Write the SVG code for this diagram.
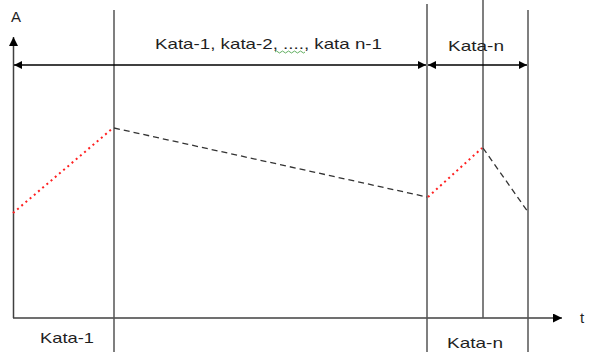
<svg xmlns="http://www.w3.org/2000/svg" width="589" height="352" viewBox="0 0 589 352">
<style>
text{font-family:"Liberation Sans",Arial,sans-serif;font-size:15px;fill:#1f1f1f}
.v{stroke:#555;stroke-width:1.5;fill:none}
.ax{stroke:#404040;stroke-width:1.5;fill:none}
.dim{stroke:#000;stroke-width:1.3;fill:none}
.red{stroke:#ff2020;stroke-width:2;stroke-dasharray:2 3.5;fill:none}
.dash{stroke:#333;stroke-width:1.3;stroke-dasharray:6 4;fill:none}
</style>
<defs>
<marker id="ah" viewBox="0 0 10 10" refX="10" refY="5" markerWidth="8" markerHeight="8" markerUnits="userSpaceOnUse" orient="auto-start-reverse">
<path d="M0,0 L10,5 L0,10 z" fill="#000"/>
</marker>
<marker id="ah2" viewBox="0 0 10 10" refX="10" refY="5" markerWidth="9" markerHeight="9" markerUnits="userSpaceOnUse" orient="auto">
<path d="M0,0 L10,5 L0,10 z" fill="#000"/>
</marker>
</defs>
<g id="axes">
<line class="ax" x1="13.5" y1="318" x2="13.5" y2="37" marker-end="url(#ah2)"/>
<line class="ax" x1="13" y1="318" x2="562" y2="318" marker-end="url(#ah2)"/>
<text x="11" y="22" style="font-size:15px">A</text>
<text x="580" y="323" style="font-size:15px">t</text>
</g>
<g id="verticals">
<line class="v" x1="114" y1="10" x2="114" y2="352"/>
<line class="v" x1="427" y1="4" x2="427" y2="352"/>
<line class="v" x1="483" y1="0" x2="483" y2="318"/>
<line class="v" x1="528" y1="10" x2="528" y2="352"/>
</g>
<g id="connectors">
<line class="dim" x1="14" y1="65" x2="426" y2="65" marker-start="url(#ah)" marker-end="url(#ah)"/>
<line class="dim" x1="428" y1="65" x2="527" y2="65" marker-start="url(#ah)" marker-end="url(#ah)"/>
<polyline class="red" points="13,213 113,128"/>
<polyline class="dash" points="114,128 427,197"/>
<polyline class="red" points="428,197 482,148"/>
<polyline class="dash" points="483,148 528,212"/>
</g>
<g id="labels">
<text x="155" y="49" textLength="227" lengthAdjust="spacingAndGlyphs">Kata-1, kata-2, ...., kata n-1</text>
<path d="M275,52 q1.5,-2 3,0 t3,0 t3,0 t3,0 t3,0 t3,0 t3,0 t3,0 t3,0 t3,0" stroke="#3a9a3a" stroke-width="0.8" fill="none"/>
<text x="448" y="51" textLength="56" lengthAdjust="spacingAndGlyphs">Kata-n</text>
<text x="40" y="343" textLength="54" lengthAdjust="spacingAndGlyphs">Kata-1</text>
<text x="447" y="348" textLength="56" lengthAdjust="spacingAndGlyphs">Kata-n</text>
</g>
</svg>
